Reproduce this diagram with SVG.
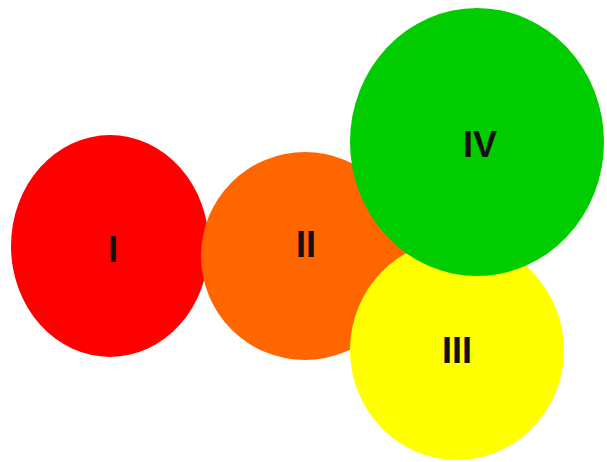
<svg xmlns="http://www.w3.org/2000/svg" width="607" height="462" viewBox="0 0 607 462">
<style>
.lbl{font-family:"Liberation Sans",Arial,sans-serif;font-weight:bold;font-size:36px;fill:#111;text-anchor:middle}
</style>
<rect width="607" height="462" fill="#fff"/>
<g id="node-I"><ellipse cx="110" cy="246" rx="99" ry="111" fill="#FF0000"/><text class="lbl" x="113" y="262">I</text></g>
<g id="node-II"><ellipse cx="305" cy="256" rx="104" ry="104" fill="#FF6600"/><text class="lbl" x="306" y="257">II</text></g>
<g id="node-III"><ellipse cx="457" cy="350" rx="107" ry="110" fill="#FFFF00"/><text class="lbl" x="457" y="363">III</text></g>
<g id="node-IV"><ellipse cx="477" cy="142" rx="127" ry="134" fill="#00CC00"/><text class="lbl" x="480" y="157">IV</text></g>
<g id="connectors"/>
</svg>
